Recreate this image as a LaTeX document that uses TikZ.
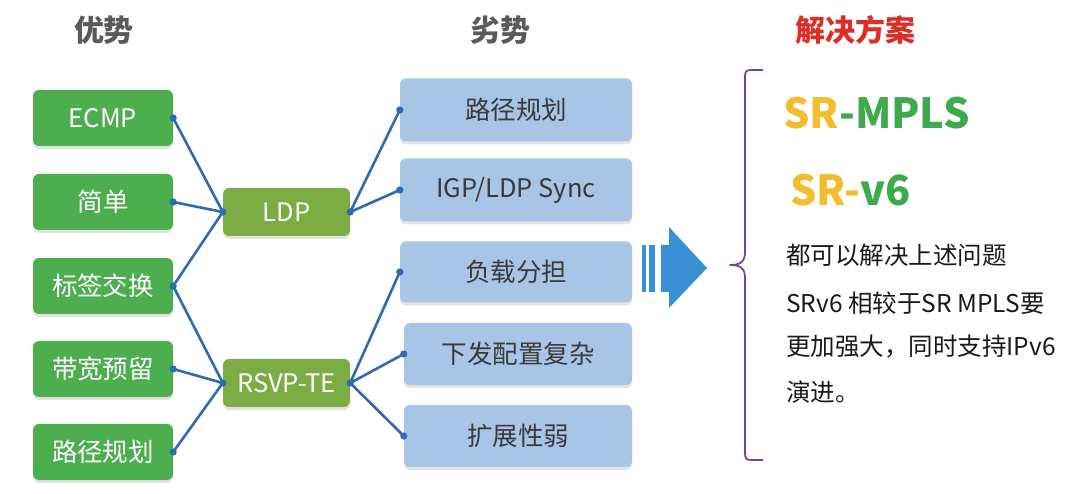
\documentclass[tikz,border=0pt]{standalone}
\usepackage{fontspec}
\setmainfont{Noto Sans CJK SC}
\usetikzlibrary{shadows}
\definecolor{gbox}{HTML}{4DAE50}
\definecolor{obox}{HTML}{7CAD45}
\definecolor{bbox}{HTML}{A9C5E6}
\definecolor{btext}{HTML}{3A3A3A}
\definecolor{linkc}{HTML}{2F6BB3}
\definecolor{arrowc}{HTML}{3B8FD5}
\definecolor{bracec}{HTML}{7A3FA0}
\definecolor{sry}{HTML}{F2BD2E}
\definecolor{srg}{HTML}{3DAA4C}
\definecolor{headg}{HTML}{5A5A5A}
\definecolor{headr}{HTML}{DD2E26}
\tikzset{
  boxbase/.style={rounded corners=6pt, inner sep=0pt, font=\fontsize{25.5}{27}\selectfont,
    drop shadow={shadow xshift=0pt, shadow yshift=-3pt, fill=black!18, opacity=0.6}},
  gbx/.style={boxbase, fill=gbox, text=white, minimum width=140pt, minimum height=56pt},
  obx/.style={boxbase, fill=obox, text=white, minimum width=127pt, minimum height=48pt},
  bbx/.style={boxbase, fill=bbox, text=btext, minimum width=232pt, minimum height=63pt},
  link/.style={draw=linkc, line width=2.6pt},
  dot/.style={fill=linkc},
  head/.style={font=\fontsize{30}{32}\selectfont\bfseries, inner sep=0pt},
  para/.style={font=\fontsize{24.5}{26}\selectfont, text=black!90, anchor=west, inner sep=0pt},
}
\begin{document}
\begin{tikzpicture}[x=1pt,y=-1pt]
\useasboundingbox (0,0) rectangle (1080,494);
% headers
\node[head, text=headg] (h1) at (104,30) {优势};
\node[head, text=headg] (h2) at (500,30) {劣势};
\node[head, text=headr] (h3) at (855,30) {解决方案};
% left green boxes
\node[gbx] (a1) at (103,118) {ECMP};
\node[gbx] (a2) at (103,202) {简单};
\node[gbx] (a3) at (103,286) {标签交换};
\node[gbx] (a4) at (103,369) {带宽预留};
\node[gbx] (a5) at (103,452) {路径规划};
% middle
\node[obx] (ldp) at (286.5,212) {LDP};
\node[obx] (rsvp) at (286.5,383) {RSVP-TE};
% right blue boxes
\node[bbx] (b1) at (516,110) {路径规划};
\node[bbx] (b2) at (516,190) {IGP/LDP Sync};
\node[bbx, minimum height=61pt] (b3) at (516,272) {负载分担};
\node[bbx, minimum width=228pt, minimum height=62pt] (b4) at (518,354) {下发配置复杂};
\node[bbx, minimum width=228pt, minimum height=62pt] (b5) at (518,436) {扩展性弱};
% links
\draw[link] (a1.east) -- (ldp.west);
\draw[link] (a2.east) -- (ldp.west);
\draw[link] (a3.east) -- (ldp.west);
\draw[link] (a3.east) -- (rsvp.west);
\draw[link] (a4.east) -- (rsvp.west);
\draw[link] (a5.east) -- (rsvp.west);
\draw[link] (ldp.east) -- (b1.west);
\draw[link] (ldp.east) -- (b2.west);
\draw[link] (rsvp.east) -- (b3.west);
\draw[link] (rsvp.east) -- (b4.west);
\draw[link] (rsvp.east) -- (b5.west);
\foreach \n/\a in {a1/east,a2/east,a3/east,a4/east,a5/east,ldp/west,ldp/east,rsvp/west,rsvp/east,b1/west,b2/west,b3/west,b4/west,b5/west}
  \fill[dot] (\n.\a) circle[radius=3.6pt];
% big arrow
\fill[arrowc] (642,245) rectangle (646,292);
\fill[arrowc] (649,245) rectangle (655,292);
\fill[arrowc] (661,245) -- (669,245) -- (669,227) -- (707,268) -- (669,308) -- (669,292) -- (661,292) -- cycle;
% brace
\draw[bracec, line width=1.8pt, line join=round]
  (763,70) -- (751,70) .. controls (746,70) and (745,72) .. (745,77)
  -- (745,252) .. controls (745,262) and (740,265) .. (730,265)
  .. controls (740,265) and (745,268) .. (745,278)
  -- (745,453) .. controls (745,458) and (746,460) .. (751,460) -- (763,460);
% solution text
\node[font=\fontsize{41.5}{44}\selectfont\bfseries, anchor=west, inner sep=0pt] (s1) at (783,113)
  {\textcolor{sry}{SR}\textcolor{srg}{-MPLS}};
\node[font=\fontsize{41.5}{44}\selectfont\bfseries, anchor=west, inner sep=0pt] (s2) at (790,190)
  {\textcolor{sry}{SR-}\textcolor{srg}{v6}};
\node[para] (p1) at (786,255) {都可以解决上述问题};
\node[para] (p2) at (786,303) {SRv6 相较于SR MPLS要};
\node[para] (p3) at (786,347) {更加强大，同时支持IPv6};
\node[para] (p4) at (786,392) {演进。};
\end{tikzpicture}
\end{document}
